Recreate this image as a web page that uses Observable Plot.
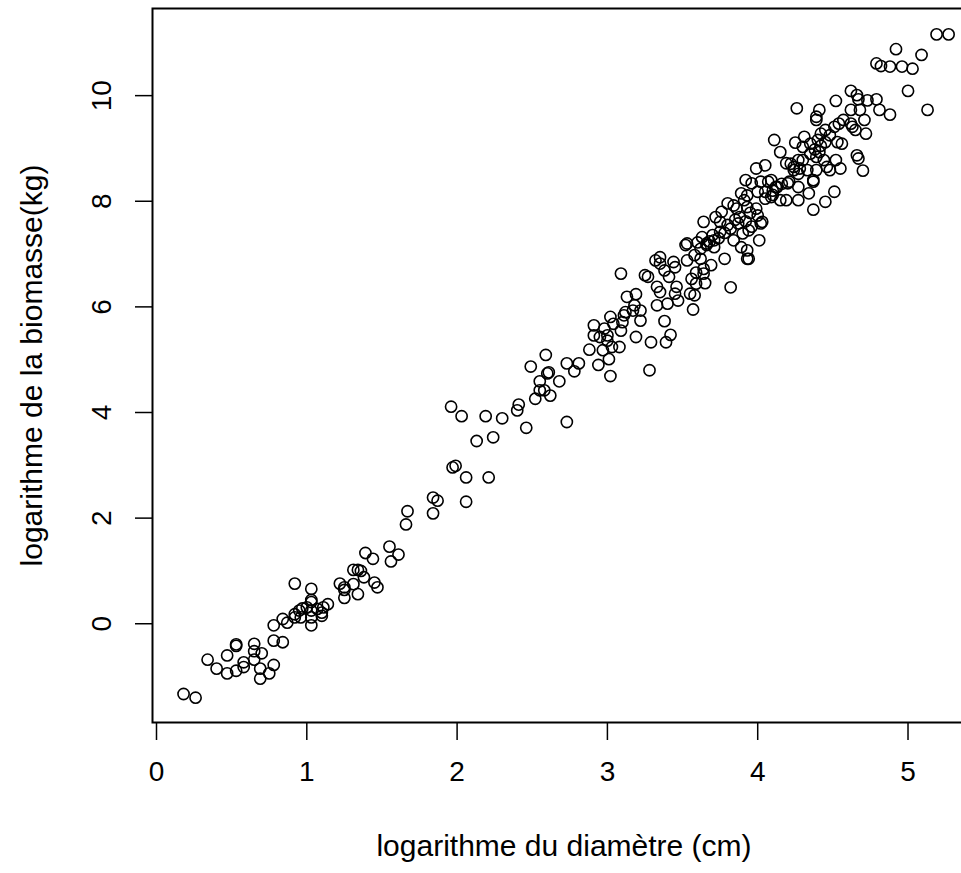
<!DOCTYPE html>
<html>
<head>
<meta charset="utf-8">
<script src="https://cdn.jsdelivr.net/npm/d3@7"></script>
<script src="https://cdn.jsdelivr.net/npm/@observablehq/plot@0.6"></script>
<style>
html, body { margin: 0; padding: 0; overflow: hidden; background: white; }
#chart svg { max-width: none !important; }
</style>
</head>
<body>
<div id="chart"></div>
<script>
const xLabel = "logarithme du diamètre (cm)";
const yLabel = "logarithme de la biomasse(kg)";
const xTicks = [0, 1, 2, 3, 4, 5];
const yTicks = [0, 2, 4, 6, 8, 10];

const logD = [
  0.18,0.26,0.34,0.40,0.47,0.47,0.53,0.53,0.53,0.58,0.58,0.65,0.65,0.65,0.70,0.69,0.69,0.75,0.78,0.78,
  0.78,0.84,0.84,0.87,0.92,0.92,0.92,0.95,0.96,0.97,1.00,1.03,1.03,1.03,1.03,1.03,1.03,1.07,1.10,1.10,
  1.11,1.14,1.22,1.25,1.25,1.25,
  1.96,2.03,2.19,2.30,2.13,2.24,2.40,2.41,2.46,2.52,2.55,2.58,2.62,2.68,2.73,1.97,1.99,2.06,2.21,2.06,
  1.84,1.87,1.84,1.67,1.66,1.55,1.61,1.56,1.39,1.44,1.31,1.34,1.36,1.38,1.31,1.45,1.47,1.34,
  2.49,2.59,2.61,2.60,2.55,
  3.09,3.02,3.28,2.73,2.81,2.78,2.88,2.94,3.01,2.97,2.91,2.91,2.95,3.00,3.00,3.03,3.02,2.98,3.04,3.08,
  3.09,3.10,3.11,3.12,3.13,3.17,3.19,3.18,3.22,3.19,3.22,3.29,3.38,3.39,3.42,3.57,3.25,3.27,3.32,3.35,
  3.35,3.33,3.35,3.33,3.40,3.38,3.41,3.45,3.46,3.47,3.45,3.44,3.52,3.53,3.56,3.59,3.55,3.58,3.62,3.64,
  3.65,3.69,3.62,3.66,3.71,3.60,3.58,
  4.15,3.99,4.05,4.22,4.27,4.30,4.24,4.33,4.37,4.39,4.20,4.27,4.27,4.34,4.37,3.92,3.96,4.02,4.09,4.13,
  4.15,4.19,4.09,4.05,4.00,3.93,3.89,3.91,3.80,3.84,3.86,3.93,3.99,4.00,4.03,3.72,3.64,3.53,3.63,3.70,
  3.75,3.82,3.87,3.90,3.94,3.96,3.84,3.89,3.93,3.94,4.01,3.78,3.71,3.66,3.59,3.64,3.75,3.76,3.82,3.93,
  4.02,
  5.19,5.27,4.92,5.09,4.79,4.82,4.88,4.96,5.03,5.00,5.13,4.62,4.66,4.67,4.73,4.79,4.81,4.88,4.52,4.26,
  4.41,4.39,4.39,4.62,4.68,4.71,4.72,4.62,4.57,4.54,4.51,4.48,4.45,4.42,4.40,4.53,4.56,4.63,4.65,4.31,
  4.35,4.11,4.25,4.30,4.35,4.39,4.41,4.44,4.46,4.48,4.52,4.55,4.66,4.67,4.70,4.19,4.24,4.28,4.27,4.37,
  4.45,4.51,4.21,4.16,4.12,4.07,4.10,
  3.85,3.88,3.92,3.95,3.80,3.78,3.74,3.68,4.05,4.10,4.42,4.45,4.38
];

const logB = [
  -1.33,-1.40,-0.68,-0.85,-0.60,-0.94,-0.39,-0.42,-0.89,-0.73,-0.82,-0.38,-0.52,-0.68,-0.56,-0.85,-1.04,-0.94,-0.78,-0.03,
  -0.32,-0.35,0.09,0.02,0.76,0.18,0.12,0.25,0.12,0.29,0.31,0.66,0.45,0.41,0.25,0.12,-0.03,0.28,0.21,0.15,
  0.31,0.37,0.76,0.69,0.49,0.64,
  4.11,3.93,3.93,3.89,3.46,3.53,4.04,4.15,3.71,4.26,4.42,4.42,4.32,4.59,3.82,2.96,2.99,2.77,2.77,2.31,
  2.39,2.33,2.09,2.13,1.88,1.46,1.31,1.18,1.34,1.23,1.02,1.02,1.00,0.88,0.75,0.78,0.69,0.56,
  4.87,5.09,4.76,4.74,4.59,
  6.63,4.69,4.80,4.93,4.93,4.78,5.19,4.90,5.01,5.18,5.65,5.46,5.43,5.36,5.46,5.24,5.81,5.59,5.68,5.24,
  5.55,5.71,5.84,5.90,6.19,5.93,6.24,6.03,5.74,5.43,5.93,5.33,5.73,5.33,5.47,5.95,6.60,6.57,6.88,6.94,
  6.82,6.38,6.28,6.03,6.06,6.69,6.57,6.75,6.38,6.12,6.25,6.85,7.17,6.88,6.53,6.44,6.25,6.98,6.91,6.72,
  6.45,6.79,7.10,7.20,7.13,7.22,6.22,
  8.93,8.62,8.68,8.71,8.78,8.78,8.59,8.59,8.37,8.59,8.34,8.27,8.02,8.15,7.84,8.40,8.34,8.37,8.40,8.27,
  8.02,8.02,8.08,8.18,8.18,8.11,8.15,8.02,7.96,7.92,7.86,7.89,7.86,7.73,7.61,7.70,7.61,7.20,7.32,7.36,
  7.42,7.48,7.58,7.39,7.45,7.52,7.26,7.13,7.07,6.91,7.26,6.91,7.26,7.17,6.65,6.63,7.61,7.80,6.37,6.91,
  7.58,
  11.16,11.16,10.88,10.77,10.61,10.56,10.55,10.55,10.51,10.09,9.73,10.09,10.01,9.93,9.91,9.93,9.73,9.64,9.90,9.76,
  9.73,9.60,9.54,9.73,9.73,9.54,9.28,9.47,9.54,9.47,9.41,9.25,9.35,9.28,9.16,9.12,9.09,9.41,9.35,9.22,
  9.09,9.16,9.11,9.03,8.90,8.84,8.93,8.78,8.65,8.59,8.78,8.62,8.87,8.81,8.58,8.72,8.65,8.62,8.52,8.40,
  7.99,8.18,8.37,8.33,8.27,8.37,8.20,
  7.65,7.70,7.62,7.78,7.55,7.40,7.30,7.24,8.05,8.12,9.05,9.12,8.98
];

const points = logD.map((x, i) => ({x, y: logB[i]}));

const chart = Plot.plot({
  width: 980,
  height: 873,
  marginLeft: 152,
  marginRight: 5,
  marginTop: 8,
  marginBottom: 151,
  x: {domain: [-0.0266, 5.449]},
  y: {domain: [-1.87, 11.65]},
  style: {fontFamily: "'Liberation Sans', Arial, sans-serif", background: "white", color: "black", maxWidth: "none"},
  marks: [
    Plot.frame({stroke: "black", strokeWidth: 2}),
    Plot.axisX(xTicks, {tickSize: 18, tickFormat: () => "", strokeWidth: 1.5, label: null}),
    Plot.axisY(yTicks, {tickSize: 17, tickFormat: () => "", strokeWidth: 1.5, label: null}),
    Plot.text(xTicks, {x: d => d, text: d => String(d), frameAnchor: "bottom", dy: 58, fontSize: 28, textAnchor: "middle"}),
    Plot.text(yTicks, {y: d => d, text: d => String(d), frameAnchor: "left", dx: -50, rotate: -90, fontSize: 28, textAnchor: "middle"}),
    Plot.text([xLabel], {text: d => d, frameAnchor: "bottom", dy: 133, fontSize: 30, textAnchor: "middle"}),
    Plot.text([yLabel], {text: d => d, frameAnchor: "left", dx: -120, rotate: -90, fontSize: 30, textAnchor: "middle"}),
    Plot.dot(points, {x: "x", y: "y", r: 5.6, stroke: "black", strokeWidth: 1.6, fill: "none"})
  ]
});
document.getElementById("chart").appendChild(chart);
</script>
</body>
</html>
